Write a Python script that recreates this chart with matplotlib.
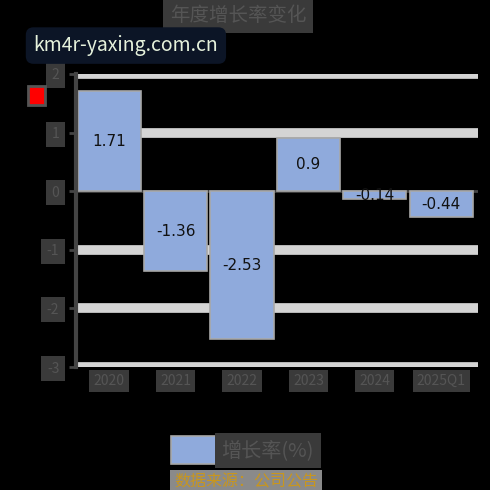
"""
Annual growth rate bar chart
"""

import matplotlib.pyplot as plt

plt.rcParams['font.family'] = ['Noto Sans CJK SC', 'DejaVu Sans']

# data
years = ['2020', '2021', '2022', '2023', '2024', '2025Q1']
growth = [1.71, -1.36, -2.53, 0.9, -0.14, -0.44]
y_ticks = [2, 1, 0, -1, -2, -3]

title = '年度增长率变化'
series_name = '增长率(%)'
source_note = '数据来源：公司公告'
watermark = 'km4r-yaxing.com.cn'

bar_color = '#8faadc'
block = '#3a3a3a'

fig = plt.figure(figsize=(4.9, 4.9), dpi=100, facecolor='black')
ax = fig.add_axes([0.155, 0.251, 0.82, 0.598])
ax.set_facecolor('black')

# gridlines (thick light bands)
for t in y_ticks:
    if t != 0:
        ax.axhline(t, color='#d4d4d4', linewidth=7, zorder=0)
ax.axhline(0, color='#444444', linewidth=2, zorder=1)

bars = ax.bar(range(len(years)), growth, width=0.95, color=bar_color,
              edgecolor='#a8a8a8', linewidth=1.2, zorder=2)

# value labels in the middle of each bar
for b, v in zip(bars, growth):
    ax.text(b.get_x() + b.get_width() / 2, v / 2, f'{v:g}',
            ha='center', va='center', fontsize=11, color='#111111',
            family='DejaVu Sans', zorder=3)

ax.set_xlim(-0.5, 5.55)
ax.set_ylim(-3, 2)
ax.set_yticks(y_ticks)
ax.set_yticklabels([str(t) for t in y_ticks])
ax.set_xticks(range(len(years)))
ax.set_xticklabels(years)

for s in ['top', 'right', 'bottom']:
    ax.spines[s].set_visible(False)
ax.spines['left'].set_color('#444444')
ax.spines['left'].set_linewidth(3)
ax.tick_params(axis='y', colors='#444444', length=5, width=2, labelsize=10,
               labelcolor='#555555', pad=7)
ax.tick_params(axis='x', length=0, labelsize=10, labelcolor='#555555', pad=5)

for lab in ax.get_yticklabels():
    lab.set_bbox(dict(facecolor=block, edgecolor='none', pad=4))
for lab in ax.get_xticklabels():
    lab.set_bbox(dict(facecolor=block, edgecolor='none', pad=3))

# title
fig.text(0.486, 0.969, title, ha='center', va='center', fontsize=14,
         color='#555555',
         bbox=dict(facecolor=block, edgecolor='none', pad=5))

# unit marker
fig.text(0.075, 0.805, '%', ha='center', va='center', fontsize=10,
         color='red', bbox=dict(facecolor='red', edgecolor='#555555',
                                linewidth=2, pad=1.5))

# legend
leg = fig.legend([bars], [series_name], loc='center',
                 bbox_to_anchor=(0.495, 0.082), frameon=False,
                 handlelength=2.5, handleheight=1.8, handletextpad=0,
                 fontsize=14.5)
for t in leg.get_texts():
    t.set_color('#555555')
    t.set_bbox(dict(facecolor=block, edgecolor='none', pad=5))

fig.text(0.502, 0.016, source_note, ha='center', va='center', fontsize=11.5,
         color='#c8961e',
         bbox=dict(facecolor='#8a8a8a', edgecolor='none', pad=3))

# watermark box
fig.text(0.257, 0.907, watermark, ha='center', va='center', fontsize=14,
         color='#e6f2dc',
         bbox=dict(boxstyle='round,pad=0.4', facecolor='#0c1526',
                   edgecolor='none'))

fig.savefig('out.png', dpi=100, facecolor='black')
